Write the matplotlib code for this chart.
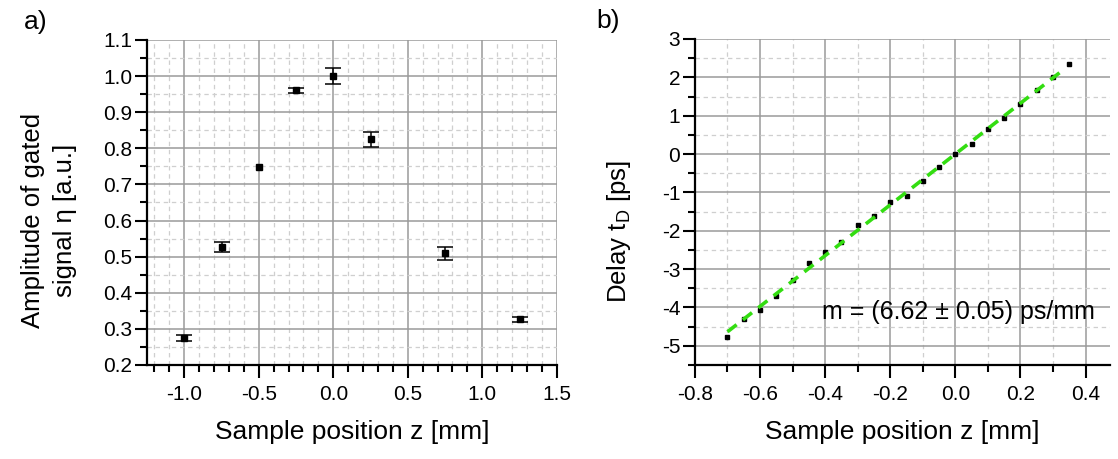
import numpy as np
import matplotlib.pyplot as plt
from matplotlib.ticker import MultipleLocator

plt.rcParams['font.family'] = ['Liberation Sans', 'DejaVu Sans']
plt.rcParams['axes.unicode_minus'] = False

# panel a) amplitude of gated signal vs sample position
z_a = [-1.0, -0.75, -0.5, -0.25, 0.0, 0.25, 0.75, 1.25]
amp = [0.275, 0.527, 0.749, 0.961, 1.0, 0.825, 0.509, 0.326]
amp_err = [0.008, 0.013, np.nan, 0.007, 0.022, 0.020, 0.017, 0.008]

# panel b) delay vs sample position
z_b = [-0.7, -0.65, -0.6, -0.55, -0.5, -0.45, -0.4, -0.35, -0.3, -0.25, -0.2,
       -0.15, -0.1, -0.05, 0.0, 0.05, 0.1, 0.15, 0.2, 0.25, 0.3, 0.35]
delay = [-4.76, -4.30, -4.06, -3.70, -3.28, -2.85, -2.56, -2.30, -1.86, -1.61, -1.26,
         -1.10, -0.70, -0.35, 0.0, 0.27, 0.65, 0.95, 1.30, 1.66, 2.01, 2.35]
slope = 6.62
intercept = 0.0
fit_range = [-0.7, 0.33]

fig = plt.figure(figsize=(11.18, 4.59), dpi=100)
ax1 = fig.add_axes([0.1315, 0.2048, 0.3665, 0.7081])
ax2 = fig.add_axes([0.6216, 0.2048, 0.3712, 0.7103])


def style_axes(ax):
    for s in ['top', 'right']:
        ax.spines[s].set_visible(False)
    for s in ['left', 'bottom']:
        ax.spines[s].set_linewidth(1.6)
    ax.tick_params(which='major', direction='out', length=9, width=1.5, labelsize=15, pad=1.5)
    ax.tick_params(axis='x', which='major', pad=5.5)
    ax.tick_params(which='minor', direction='out', length=5, width=1.5)
    ax.grid(True, which='major', color='#9a9a9a', linewidth=1.1, linestyle='-')
    ax.grid(True, which='minor', color='#cfcfcf', linewidth=0.9, linestyle=(0, (3.5, 3)))
    ax.set_axisbelow(True)


# a)
ax1.errorbar(z_a, amp, yerr=amp_err, fmt='s', color='black', ms=3.8,
             ecolor='black', elinewidth=1.1, capsize=6, capthick=1.1)
ax1.set_xlim(-1.25, 1.5)
ax1.set_ylim(0.2, 1.1)
ax1.xaxis.set_major_locator(MultipleLocator(0.5))
ax1.xaxis.set_minor_locator(MultipleLocator(0.1))
ax1.yaxis.set_major_locator(MultipleLocator(0.1))
ax1.yaxis.set_minor_locator(MultipleLocator(0.05))
ax1.xaxis.set_major_formatter(plt.FormatStrFormatter('%.1f'))
ax1.yaxis.set_major_formatter(plt.FormatStrFormatter('%.1f'))
style_axes(ax1)
ax1.set_xlabel('Sample position z [mm]', fontsize=19)
ax1.set_ylabel('Amplitude of gated\nsignal \u03b7 [a.u.]', fontsize=18.5, linespacing=1.4)
ax1.xaxis.set_label_coords(0.5, -0.17)
ax1.yaxis.set_label_coords(-0.171, 0.446)
fig.text(0.032, 0.952, 'a)', fontsize=19, ha='center', va='center')

# b)
fit_x = np.array(fit_range)
ax2.plot(fit_x, slope * fit_x + intercept, color='#33dd11', lw=2.6,
         linestyle=(0, (3.2, 2.2)), zorder=3)
ax2.plot(z_b, delay, 's', color='black', ms=3, zorder=2)
ax2.set_xlim(-0.8, 0.475)
ax2.set_ylim(-5.5, 3)
ax2.xaxis.set_major_locator(MultipleLocator(0.2))
ax2.xaxis.set_minor_locator(MultipleLocator(0.1))
ax2.yaxis.set_major_locator(MultipleLocator(1))
ax2.yaxis.set_minor_locator(MultipleLocator(0.5))
ax2.xaxis.set_major_formatter(plt.FormatStrFormatter('%.1f'))
style_axes(ax2)
ax2.set_xlabel('Sample position z [mm]', fontsize=19)
ax2.set_ylabel('Delay t$_\\mathregular{D}$ [ps]', fontsize=18.5)
ax2.xaxis.set_label_coords(0.5, -0.17)
ax2.yaxis.set_label_coords(-0.15, 0.41)
ax2.text(-0.41, -4.11, 'm = (6.62 \u00b1 0.05) ps/mm', fontsize=18, ha='left', va='center')
fig.text(0.544, 0.955, 'b)', fontsize=19, ha='center', va='center')

fig.savefig('out.png', dpi=100, facecolor='white')
